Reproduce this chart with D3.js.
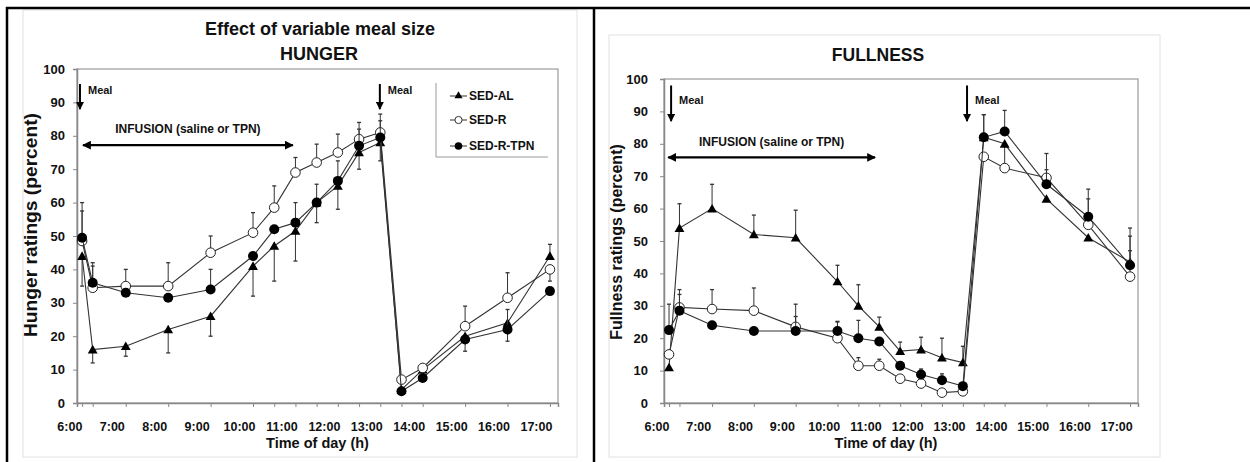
<!DOCTYPE html>
<html>
<head>
<meta charset="utf-8">
<script src="https://cdn.jsdelivr.net/npm/d3@7"></script>
<style>
  html, body { margin: 0; padding: 0; background: #fff; }
  svg { display: block; }
  text { font-family: "Liberation Sans", Arial, sans-serif; font-weight: bold; fill: #111; }
</style>
</head>
<body>
<svg id="chart" width="1250" height="462"></svg>
<script>
// ---------------- DATA ----------------
const times = [6.3, 6.55, 7.33, 8.33, 9.33, 10.33, 10.83, 11.33, 11.83, 12.33, 12.83, 13.33, 13.83, 14.33, 15.33, 16.33, 17.33];
const hourTicks = [6, 7, 8, 9, 10, 11, 12, 13, 14, 15, 16, 17];
const hourLabels = ["6:00", "7:00", "8:00", "9:00", "10:00", "11:00", "12:00", "13:00", "14:00", "15:00", "16:00", "17:00"];
const yTicks = [0, 10, 20, 30, 40, 50, 60, 70, 80, 90, 100];
const seriesNames = ["SED-AL", "SED-R", "SED-R-TPN"];

// Hunger ratings (percent)
const hungerAL  = [44, 16, 17, 22, 26, 41, 47, 51.5, 60, 65, 75, 78, 4, 10, 20, 24, 44];
const hungerR   = [48.5, 34.5, 35, 35, 45, 51, 58.5, 69, 72, 75, 79, 81, 7, 10.5, 23, 31.5, 40];
const hungerTPN = [49.5, 36, 33, 31.5, 34, 44, 52, 54, 60, 66.5, 77, 79.5, 3.5, 7.5, 19, 22, 33.5];
// signed error bars (+ up, - down)
const hungerALErr  = [-9, -4, -3, -7, -6, -9, -10.5, -9, -6, -7, -5, -5.5, 0, 1.5, -4.5, -5.5, 3.5];
const hungerRErr   = [9, 6.5, 5, 7, 5, 6, 6.5, 4.5, 5.5, 5.5, 5, 5.5, 1, 1, 6, 7.5, -3.5];
const hungerTPNErr = [10.5, 6, 0, 0, 6, 0, 0, 6, 5.5, 6, 5, 5, 0, 0, 0, 6, 0];

// Fullness ratings (percent)
const fullAL  = [11, 54, 60, 52, 51, 37.5, 30, 23.5, 16, 16.5, 14, 12.5, 82, 80, 63, 51, 43.5];
const fullR   = [15, 29.5, 29, 28.5, 23.5, 20, 11.5, 11.5, 7.5, 6, 3.2, 3.6, 76, 72.5, 69.5, 55, 39];
const fullTPN = [22.5, 28.5, 24, 22.2, 22.2, 22.2, 20, 19, 11.5, 8.8, 7, 5.2, 82, 83.8, 67.5, 57.5, 42.5];
const fullALErr  = [0, 7.5, 7.5, 6, 8.5, 5, 6.5, 3, 2.8, 3.8, 6, 5, 7, -7, 0, 0, 10.5];
const fullRErr   = [0, 5.5, 6, 7, 7, 5, 2.5, 2, 0, 0, 0, 0, 0, 0, 7.5, 8, 8];
const fullTPNErr = [8, 5, 0, 0, 4.5, 3, 5.5, 0, 0, 1.7, 2, 0, 7, 6.5, 4.5, 8.5, 9];

// Annotations (time in hours, value in percent)
const hungerMeals = [6.25, 13.32];
const fullMeals = [6.35, 13.43];
const hungerInfusion = [6.32, 11.27];
const fullInfusion = [6.28, 11.23];

// ---------------- DRAW ----------------
const svg = d3.select("#chart");

// table-like frame
svg.append("rect").attr("x", 23).attr("y", 10).attr("width", 554).attr("height", 447)
  .attr("fill", "none").attr("stroke", "#e2e2e2").attr("stroke-width", 1);
svg.append("rect").attr("x", 609).attr("y", 35).attr("width", 551).attr("height", 422)
  .attr("fill", "none").attr("stroke", "#e2e2e2").attr("stroke-width", 1);
svg.append("line").attr("x1", 6).attr("x2", 1250).attr("y1", 8).attr("y2", 8).attr("stroke", "#000").attr("stroke-width", 2.5);
svg.append("line").attr("x1", 7).attr("x2", 7).attr("y1", 7).attr("y2", 462).attr("stroke", "#000").attr("stroke-width", 2.5);
svg.append("line").attr("x1", 594).attr("x2", 594).attr("y1", 7).attr("y2", 462).attr("stroke", "#000").attr("stroke-width", 2.5);

const xDomain = [6.18, 17.52];

function drawChart(cfg) {
  const x = d3.scaleLinear().domain(xDomain).range([cfg.left, cfg.right]);
  const y = d3.scaleLinear().domain([0, 100]).range([cfg.bottom, cfg.top]);
  const g = svg.append("g");

  // plot frame
  g.append("rect").attr("x", cfg.left).attr("y", cfg.top)
    .attr("width", cfg.right - cfg.left).attr("height", cfg.bottom - cfg.top)
    .attr("fill", "none").attr("stroke", "#9a9a9a").attr("stroke-width", 1.2);

  // y axis
  const yAxis = d3.axisLeft(y).tickValues(yTicks).tickSize(4).tickPadding(cfg.yPad).tickFormat(d3.format("d"));
  const ya = g.append("g").attr("transform", `translate(${cfg.left},0)`).call(yAxis);
  ya.select(".domain").attr("stroke", "#888").attr("stroke-width", 1.5);
  ya.selectAll(".tick line").attr("stroke", "#888");
  ya.selectAll("text").attr("font-size", 13).attr("font-family", "Liberation Sans, Arial, sans-serif").attr("font-weight", "bold").attr("fill", "#111");

  // x axis: small ticks at sample times, hour labels
  const xa = g.append("g").attr("transform", `translate(0,${cfg.bottom})`)
    .call(d3.axisBottom(x).tickValues(times).tickSize(4).tickFormat(""));
  xa.select(".domain").attr("stroke", "#888").attr("stroke-width", 1.5);
  xa.selectAll(".tick line").attr("stroke", "#888");
  const xl = g.append("g").attr("transform", `translate(0,${cfg.bottom})`)
    .call(d3.axisBottom(x).tickValues(hourTicks).tickSize(0).tickPadding(19)
      .tickFormat((d, i) => hourLabels[i]));
  xl.select(".domain").remove();
  xl.selectAll("text").attr("font-size", 12.5).attr("font-family", "Liberation Sans, Arial, sans-serif").attr("font-weight", "bold").attr("fill", "#111");

  // titles
  cfg.titles.forEach(t => {
    g.append("text").attr("x", t.x).attr("y", t.y).attr("text-anchor", "middle")
      .attr("font-size", t.size).text(t.text);
  });
  g.append("text").attr("x", (cfg.left + cfg.right) / 2 + cfg.xTitleDx).attr("y", cfg.bottom + 45)
    .attr("text-anchor", "middle").attr("font-size", 14.5).text("Time of day (h)");
  const yt = g.append("text").attr("transform", `translate(${cfg.yTitleX},${cfg.yTitleY}) rotate(-90)`)
    .attr("text-anchor", "middle").attr("font-size", cfg.yTitleSize).text(cfg.yTitle);
  if (cfg.yTitleLen) yt.attr("textLength", cfg.yTitleLen).attr("lengthAdjust", "spacingAndGlyphs");

  // annotations: meal arrows
  const defsId = "ah" + cfg.id;
  const defs = svg.append("defs");
  defs.append("marker").attr("id", defsId).attr("viewBox", "0 0 10 10").attr("refX", 9).attr("refY", 5)
    .attr("markerWidth", 4).attr("markerHeight", 4).attr("orient", "auto-start-reverse")
    .append("path").attr("d", "M0,0 L10,5 L0,10 Z").attr("fill", "#000");
  cfg.meals.forEach(m => {
    g.append("line").attr("x1", x(m)).attr("x2", x(m)).attr("y1", y(cfg.mealTop)).attr("y2", y(cfg.mealBottom))
      .attr("stroke", "#000").attr("stroke-width", 2).attr("marker-end", `url(#${defsId})`);
    g.append("text").attr("x", x(m) + 8).attr("y", y(cfg.mealText)).attr("dy", "0.35em")
      .attr("font-size", 11).text("Meal");
  });
  g.append("line").attr("x1", x(cfg.infusion[0])).attr("x2", x(cfg.infusion[1]))
    .attr("y1", y(cfg.infY)).attr("y2", y(cfg.infY))
    .attr("stroke", "#000").attr("stroke-width", 2.2)
    .attr("marker-start", `url(#${defsId})`).attr("marker-end", `url(#${defsId})`);
  g.append("text").attr("x", x((cfg.infusion[0] + cfg.infusion[1]) / 2)).attr("y", y(cfg.infTextY)).attr("dy", "0.35em")
    .attr("text-anchor", "middle").attr("font-size", 12).text("INFUSION (saline or TPN)");

  // series
  const line = d3.line().x((d, i) => x(times[i])).y(d => y(d));
  const sym = d3.symbol().type(d3.symbolTriangle).size(42);
  cfg.series.forEach((s, si) => {
    g.append("path").datum(s.values).attr("d", line).attr("fill", "none")
      .attr("stroke", "#333").attr("stroke-width", 1.1);
    const eb = g.append("g");
    s.errors.forEach((e, i) => {
      if (!e) return;
      const cx = x(times[i]);
      eb.append("line").attr("x1", cx).attr("x2", cx).attr("y1", y(s.values[i])).attr("y2", y(s.values[i] + e))
        .attr("stroke", "#333").attr("stroke-width", 1);
      eb.append("line").attr("x1", cx - 2).attr("x2", cx + 2).attr("y1", y(s.values[i] + e)).attr("y2", y(s.values[i] + e))
        .attr("stroke", "#333").attr("stroke-width", 1.3);
    });
    const mk = g.append("g");
    s.values.forEach((v, i) => {
      if (si === 0) {
        mk.append("path").attr("d", sym).attr("transform", `translate(${x(times[i])},${y(v) + 1})`).attr("fill", "#000");
      } else if (si === 1) {
        mk.append("circle").attr("cx", x(times[i])).attr("cy", y(v)).attr("r", 4.8)
          .attr("fill", "#fff").attr("stroke", "#222").attr("stroke-width", 1);
      } else {
        mk.append("circle").attr("cx", x(times[i])).attr("cy", y(v)).attr("r", 5).attr("fill", "#000");
      }
    });
  });

  // legend
  if (cfg.legend) {
    const L = cfg.legend;
    g.append("line").attr("x1", L.x0).attr("x2", L.x0).attr("y1", L.y0).attr("y2", L.y1).attr("stroke", "#999");
    g.append("line").attr("x1", L.x0).attr("x2", L.x1).attr("y1", L.y1).attr("y2", L.y1).attr("stroke", "#999");
    seriesNames.forEach((name, i) => {
      const yy = L.rows[i];
      g.append("line").attr("x1", L.x0 + 14).attr("x2", L.x0 + 31).attr("y1", yy).attr("y2", yy).attr("stroke", "#333");
      const cx = L.x0 + 22.5;
      if (i === 0) g.append("path").attr("d", d3.symbol().type(d3.symbolTriangle).size(28)).attr("transform", `translate(${cx},${yy})`).attr("fill", "#000");
      else if (i === 1) g.append("circle").attr("cx", cx).attr("cy", yy).attr("r", 3.6).attr("fill", "#fff").attr("stroke", "#333");
      else g.append("circle").attr("cx", cx).attr("cy", yy).attr("r", 3.8).attr("fill", "#000");
      g.append("text").attr("x", L.x0 + 33).attr("y", yy).attr("dy", "0.36em").attr("font-size", 12).text(name);
    });
  }
}

drawChart({
  id: "h", left: 77, right: 558, top: 69, bottom: 403, yPad: 8, xTitleDx: 0,
  titles: [{ x: 320, y: 35, size: 18, text: "Effect of variable meal size" }, { x: 319, y: 60, size: 18, text: "HUNGER" }],
  yTitle: "Hunger ratings (percent)", yTitleX: 37, yTitleY: 225, yTitleSize: 17.5, yTitleLen: 224,
  meals: hungerMeals, mealTop: 95.5, mealBottom: 88, mealText: 93.7,
  infusion: hungerInfusion, infY: 77.2, infTextY: 82,
  series: [
    { values: hungerAL, errors: hungerALErr },
    { values: hungerR, errors: hungerRErr },
    { values: hungerTPN, errors: hungerTPNErr }
  ],
  legend: { x0: 436, x1: 548, y0: 83, y1: 157, rows: [96, 120, 146] }
});

drawChart({
  id: "f", left: 664, right: 1138, top: 79, bottom: 403, yPad: 12, xTitleDx: -15,
  titles: [{ x: 878, y: 61, size: 17.5, text: "FULLNESS" }],
  yTitle: "Fullness ratings (percent)", yTitleX: 622, yTitleY: 242, yTitleSize: 16, yTitleLen: null,
  meals: fullMeals, mealTop: 98, mealBottom: 87, mealText: 93.5,
  infusion: fullInfusion, infY: 75.8, infTextY: 80.6,
  series: [
    { values: fullAL, errors: fullALErr },
    { values: fullR, errors: fullRErr },
    { values: fullTPN, errors: fullTPNErr }
  ],
  legend: null
});
</script>
</body>
</html>
